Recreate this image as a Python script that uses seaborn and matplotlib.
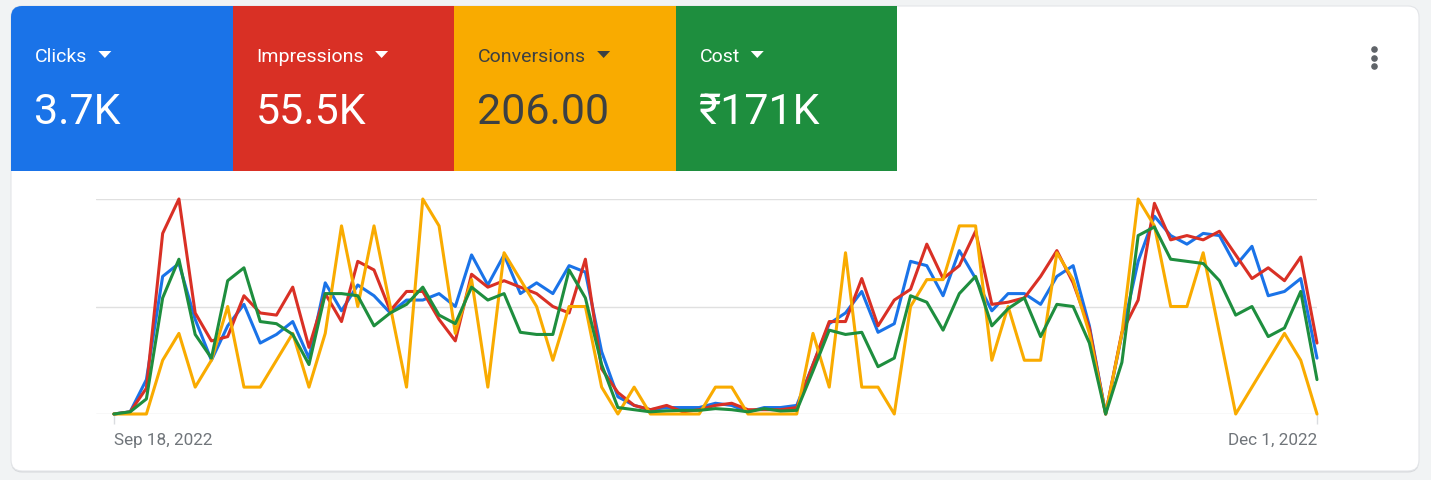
import matplotlib
matplotlib.use("Agg")
import matplotlib.pyplot as plt
from matplotlib.patches import FancyBboxPatch, Rectangle, Polygon
import numpy as np
import pandas as pd
import seaborn as sns

# Scorecard tiles
metrics = ["Clicks", "Impressions", "Conversions", "Cost"]
totals = ["3.7K", "55.5K", "206.00", "₹171K"]
colors = ["#1a73e8", "#d93025", "#f9ab00", "#1e8e3e"]
text_colors = ["white", "white", "#3c4043", "white"]

start_date = "2022-09-18"
end_date = "2022-12-01"

# Daily values as % of each metric's axis max
clicks = [0, 1, 16, 64, 70, 44, 25, 41, 51, 33, 37, 43, 26, 61, 48, 60, 55, 47, 53, 53,
          56, 50, 74, 60, 74, 56, 61, 56, 69, 66, 29, 8, 4, 2, 3, 3, 3, 5, 4, 1,
          3, 3, 4, 23, 42, 47, 57, 38, 42, 71, 69, 55, 76, 63, 48, 56, 56, 51, 64, 69,
          41, 0, 37, 71, 92, 83, 79, 84, 83, 69, 78, 55, 57, 63, 26]
impressions = [0, 1, 12, 84, 100, 47, 34, 36, 55, 47, 46, 59, 31, 56, 43, 71, 67, 48, 57, 57,
               44, 34, 65, 59, 62, 59, 56, 50, 47, 72, 21, 10, 4, 2, 4, 1, 2, 4, 5, 2,
               2, 2, 3, 23, 43, 43, 63, 41, 53, 58, 79, 63, 69, 85, 51, 52, 54, 64, 76, 61,
               40, 0, 38, 53, 98, 81, 83, 81, 85, 74, 63, 68, 62, 73, 33]
cost = [0, 1, 7, 54, 72, 37, 26, 62, 68, 43, 42, 37, 23, 56, 56, 55, 41, 47, 51, 59,
        46, 42, 59, 53, 56, 38, 37, 37, 67, 54, 23, 3, 2, 1, 1.5, 1.7, 1.7, 2.5, 2, 1,
        2.5, 1.4, 1.7, 20, 39, 37, 38, 22, 26, 55, 52, 39, 56, 64, 41, 49, 54, 36, 51, 50,
        33, 0, 24, 83, 87, 72, 71, 70, 62, 46, 50, 36, 40, 57, 16]
# Conversions per day (adds up to 206), axis max 8
conversions = [0, 0, 0, 2, 3, 1, 2, 4, 1, 1, 2, 3, 1, 3, 7, 4, 7, 4, 1, 8,
               7, 3, 5, 1, 6, 5, 4, 2, 4, 4, 1, 0, 1, 0, 0, 0, 0, 1, 1, 0,
               0, 0, 0, 3, 1, 6, 1, 1, 0, 4, 5, 5, 7, 7, 2, 4, 2, 2, 6, 5,
               3, 0, 3, 8, 7, 4, 4, 6, 3, 0, 1, 2, 3, 2, 0]
conv_axis_max = 8

W, H = 1431, 481

sns.set_theme(style="white")
plt.rcParams["font.family"] = ["Roboto", "DejaVu Sans"]

dates = pd.date_range(start_date, end_date)
df = pd.DataFrame({
    "date": dates,
    "Clicks": np.array(clicks) / 100,
    "Impressions": np.array(impressions) / 100,
    "Conversions": np.array(conversions) / conv_axis_max,
    "Cost": np.array(cost) / 100,
})
long_df = df.melt(id_vars="date", var_name="metric", value_name="value")

fig = plt.figure(figsize=(W / 100, H / 100), dpi=100)
fig.patch.set_facecolor("#f1f3f4")

# background layer in pixel coordinates
bg = fig.add_axes([0, 0, 1, 1], zorder=0)
bg.set_xlim(0, W)
bg.set_ylim(H, 0)
bg.axis("off")

shadow = FancyBboxPatch((11, 8.5), 1408, 465, boxstyle="round,pad=0,rounding_size=11",
                        facecolor="#d6d8db", edgecolor="none")
bg.add_patch(shadow)
card = FancyBboxPatch((11, 7), 1408, 465, boxstyle="round,pad=0,rounding_size=11",
                      facecolor="white", edgecolor="#e3e5e8", lw=0.8)
bg.add_patch(card)

tile_w = 221.5
fig.canvas.draw()
renderer = fig.canvas.get_renderer()
for i, name in enumerate(metrics):
    x0 = 11 + i * tile_w
    tile = Rectangle((x0, 7), tile_w, 164.5, facecolor=colors[i], edgecolor="none")
    bg.add_patch(tile)
    tile.set_clip_path(card)
    lab = bg.text(x0 + 24, 62, name, color=text_colors[i], fontsize=14,
                  va="baseline", ha="left")
    bg.text(x0 + 23, 124, totals[i], color=text_colors[i], fontsize=31,
            va="baseline", ha="left")
    # dropdown caret after the label
    bb = lab.get_window_extent(renderer=renderer)
    right = bg.transData.inverted().transform((bb.x1, bb.y0))[0]
    tx = right + 11
    bg.add_patch(Polygon([(tx, 52), (tx + 13, 52), (tx + 6.5, 59)], closed=True,
                         facecolor=text_colors[i], edgecolor="none"))

# overflow menu
bg.scatter([1374, 1374, 1374], [50, 58.5, 67], s=14, color="#5f6368", zorder=3)

# line chart
ax = fig.add_axes([96 / W, (H - 415) / H, (1317 - 96) / W, 215 / H], zorder=1)
ax.set_facecolor("none")
sns.lineplot(data=long_df, x="date", y="value", hue="metric", hue_order=metrics,
             palette=colors, linewidth=2.2, legend=False, ax=ax)
for line in ax.lines:
    line.set_clip_on(False)

ax.set_xlim(dates[0] - pd.Timedelta(days=1.1), dates[-1])
ax.set_ylim(0, 1)
ax.set_yticks([0, 0.5, 1])
ax.yaxis.grid(True, color="#e0e0e0", lw=1)
ax.tick_params(axis="y", length=0, labelleft=False)
ax.set_xticks([dates[0], dates[-1]])
ax.set_xticklabels([f"{d:%b} {d.day}, {d.year}" for d in (dates[0], dates[-1])])
ax.tick_params(axis="x", length=7, width=1, color="#dadce0", labelcolor="#70757a",
               labelsize=12.3, pad=6, bottom=True)
labels = ax.get_xticklabels()
labels[0].set_ha("left")
labels[1].set_ha("right")
ax.set_xlabel("")
ax.set_ylabel("")
for s in ax.spines.values():
    s.set_visible(False)

fig.savefig("out.png", dpi=100, facecolor=fig.get_facecolor())
